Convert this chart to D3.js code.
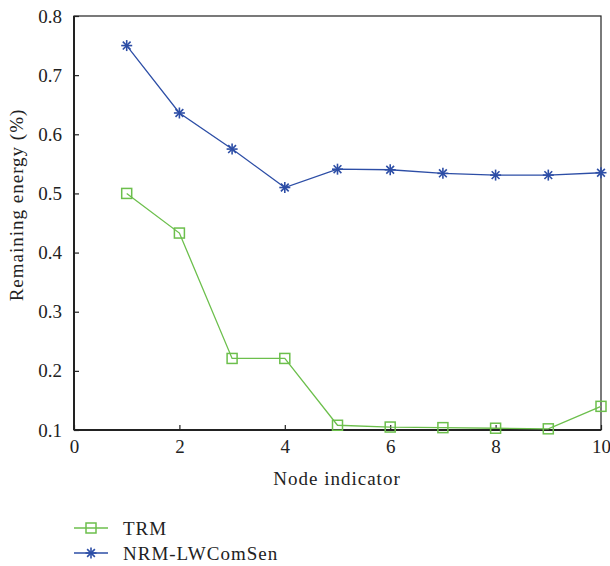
<!DOCTYPE html>
<html><head><meta charset="utf-8">
<script src="https://cdn.jsdelivr.net/npm/d3@7"></script>
<style>body{margin:0;background:#fff}</style>
</head><body>
<script>
const nodes = [1,2,3,4,5,6,7,8,9,10];
const trm = [0.500,0.433,0.221,0.221,0.108,0.105,0.104,0.103,0.102,0.140];
const nrm = [0.750,0.636,0.575,0.510,0.541,0.540,0.534,0.531,0.531,0.535];
const xTicks = [0,2,4,6,8,10];
const yTicks = [0.1,0.2,0.3,0.4,0.5,0.6,0.7,0.8];
const seriesNames = ["TRM","NRM-LWComSen"];

const W=610,H=566;
const green="#6cbf4c", blue="#2d4ea6";
const font="'Liberation Serif', 'DejaVu Serif', serif";
const fs=19;
const svg=d3.select("body").append("svg").attr("width",W).attr("height",H);
const L=74,R=601,T=16,B=430;
const x=d3.scaleLinear().domain([0,10]).range([L,R]);
const y=d3.scaleLinear().domain([0.1,0.8]).range([B,T]);

// frame
svg.append("rect").attr("x",L).attr("y",T).attr("width",R-L).attr("height",B-T)
  .attr("fill","none").attr("stroke","#222").attr("stroke-width",1.2);
svg.append("line").attr("x1",L).attr("x2",R).attr("y1",B).attr("y2",B).attr("stroke","#222").attr("stroke-width",2);
svg.append("line").attr("x1",L).attr("x2",L).attr("y1",T).attr("y2",B).attr("stroke","#222").attr("stroke-width",2);

const xa=svg.append("g").attr("transform",`translate(0,${B})`)
  .call(d3.axisBottom(x).tickValues(xTicks).tickSize(-5).tickPadding(10).tickFormat(d3.format("d")));
const ya=svg.append("g").attr("transform",`translate(${L},0)`)
  .call(d3.axisLeft(y).tickValues(yTicks).tickSize(-5).tickPadding(12).tickFormat(d3.format(".1f")));
[xa,ya].forEach(a=>{a.select(".domain").remove();
  a.selectAll("line").attr("stroke","#222").attr("stroke-width",1.2);
  a.selectAll("text").attr("font-family",font).attr("font-size",fs).attr("fill","#222");});
xa.selectAll("text").attr("dy","0.71em");

svg.append("text").attr("x",337).attr("y",485).attr("text-anchor","middle").attr("letter-spacing","1px")
  .attr("font-family",font).attr("font-size",fs).attr("fill","#222").text("Node indicator");
svg.append("text").attr("transform",`translate(23,205) rotate(-90)`).attr("text-anchor","middle").attr("letter-spacing","1px")
  .attr("font-family",font).attr("font-size",fs).attr("fill","#222").text("Remaining energy (%)");

const line=d3.line().x((d,i)=>x(nodes[i])).y(d=>y(d));
svg.append("path").datum(trm).attr("d",line).attr("fill","none").attr("stroke",green).attr("stroke-width",1.3);
svg.append("path").datum(nrm).attr("d",line).attr("fill","none").attr("stroke",blue).attr("stroke-width",1.3);

function square(g,cx,cy){g.append("rect").attr("x",cx-5).attr("y",cy-5).attr("width",10).attr("height",10)
  .attr("fill","none").attr("stroke",green).attr("stroke-width",1.5);}
function star(g,cx,cy){const r=5.5;
  for(let k=0;k<4;k++){const a=k*Math.PI/4;
    g.append("line").attr("x1",cx-r*Math.cos(a)).attr("y1",cy-r*Math.sin(a))
      .attr("x2",cx+r*Math.cos(a)).attr("y2",cy+r*Math.sin(a)).attr("stroke",blue).attr("stroke-width",1.6);}}
trm.forEach((d,i)=>square(svg,x(nodes[i]),y(d)));
nrm.forEach((d,i)=>star(svg,x(nodes[i]),y(d)));

// legend
const lg=[{n:seriesNames[0],c:green,m:square,y:528},{n:seriesNames[1],c:blue,m:star,y:553}];
lg.forEach(e=>{
  svg.append("line").attr("x1",74).attr("x2",108).attr("y1",e.y).attr("y2",e.y).attr("stroke",e.c).attr("stroke-width",1.3);
  e.m(svg,91,e.y);
  svg.append("text").attr("x",123).attr("y",e.y+7).attr("letter-spacing","1px").attr("font-family",font)
    .attr("font-size",fs).attr("fill","#222").text(e.n);
});
</script>
</body></html>
